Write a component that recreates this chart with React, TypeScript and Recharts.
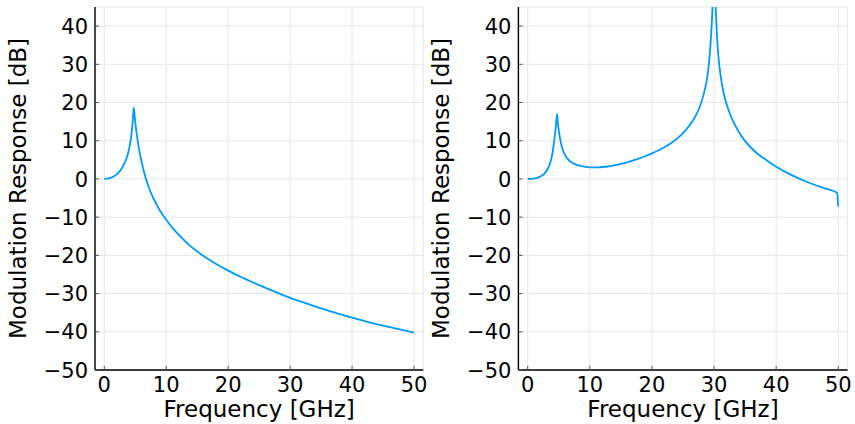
import { LineChart, Line, XAxis, YAxis, CartesianGrid } from 'recharts';

// values
const leftFreq = [
  0, 1, 2, 2.7, 3.2, 3.6, 4.0, 4.3, 4.55, 4.76, 4.95, 5.15, 5.4, 5.7, 6.1, 6.6, 7.2, 8.0, 9.0, 10,
  11, 12, 13.5, 15, 16.5, 18, 20, 22.5, 25, 27.5, 30, 32.5, 35, 37.5, 40, 42.5, 45, 47.5, 50,
];
const leftDb = [
  0, 0.3, 1.2, 2.5, 3.9, 5.4, 7.8, 10.6, 14.2, 18.7, 15.6, 12.8, 9.9, 7.0, 3.9, 0.7, -2.3, -5.3, -8.3, -10.7,
  -12.8, -14.6, -17.0, -19.0, -20.7, -22.2, -24.0, -26.0, -27.8, -29.5, -31.1, -32.5, -33.9, -35.1, -36.3, -37.4, -38.4, -39.3, -40.2,
];

const rightFreq = [
  0, 1, 2, 2.7, 3.2, 3.6, 4.0, 4.3, 4.5, 4.73, 4.9, 5.1, 5.35, 5.65, 6.0, 6.45, 7, 7.7, 8.5, 10,
  11.5, 13, 14.5, 16, 17.5, 19, 20, 21, 22, 23, 24, 25, 26, 27, 27.7, 28.3, 28.8, 29.2, 29.5, 29.7, 29.85,
  30, 30.15, 30.3, 30.5, 30.75, 31, 31.4, 31.8, 32.4, 33.1, 34, 35, 36, 37, 38, 40, 42.5, 45, 47.5, 49.8, 50,
];
const rightDb = [
  0, 0.1, 0.6, 1.4, 2.6, 4.1, 6.9, 10.5, 13.2, 17.0, 14.0, 11.6, 9.4, 7.6, 6.3, 5.2, 4.4, 3.8, 3.4, 3.05,
  3.05, 3.3, 3.75, 4.35, 5.1, 6.0, 6.7, 7.45, 8.3, 9.3, 10.5, 12.0, 13.9, 16.4, 18.9, 22.0, 25.6, 30.5, 37, 43, 50,
  62, 50, 43.5, 36.5, 31.2, 27.7, 23.6, 20.8, 17.7, 15.0, 12.3, 9.9, 8.1, 6.6, 5.4, 3.2, 1.0, -0.8, -2.3, -3.6, -7.2,
];

const freqTicks = [0, 10, 20, 30, 40, 50];
const dbTicks = [-50, -40, -30, -20, -10, 0, 10, 20, 30, 40];

const xTitle = 'Frequency [GHz]';
const yTitle = 'Modulation Response [dB]';

const FONT = '"DejaVu Sans", sans-serif';
const LINE_COLOR = '#009AFA';

const leftData = leftFreq.map((f, i) => ({ f, db: leftDb[i] }));
const rightData = rightFreq.map((f, i) => ({ f, db: rightDb[i] }));

const fmt = (v: number) => (v < 0 ? `\u2212${-v}` : `${v}`);

const YTick = ({ x, y, payload }: any) => (
  <g>
    <text x={x} y={y} dy="0.36em" textAnchor="end" fontSize={21} fontFamily={FONT} fill="#000">
      {fmt(payload.value)}
    </text>
    <line x1={x + 7} x2={x + 11} y1={y} y2={y} stroke="#555" strokeWidth={1} />
  </g>
);

const XTick = ({ x, y, payload }: any) => (
  <g>
    <text x={x} y={y + 22} textAnchor="middle" fontSize={21} fontFamily={FONT} fill="#000">
      {fmt(payload.value)}
    </text>
    <line x1={x} x2={x} y1={y} y2={y - 4} stroke="#555" strokeWidth={1} />
  </g>
);

const XTitle = ({ viewBox }: any) => (
  <text
    x={viewBox.x + viewBox.width / 2}
    y={viewBox.y + 47}
    textAnchor="middle"
    fontSize={23}
    fontFamily={FONT}
    fill="#000"
  >
    {xTitle}
  </text>
);

const YTitle = ({ viewBox }: any) => {
  const bx = viewBox.x + viewBox.width - 69;
  const cy = viewBox.y + viewBox.height / 2;
  return (
    <text
      x={bx}
      y={cy}
      transform={`rotate(-90, ${bx}, ${cy})`}
      textAnchor="middle"
      fontSize={23}
      fontFamily={FONT}
      fill="#000"
    >
      {yTitle}
    </text>
  );
};

function Panel({ data, left, right }: { data: { f: number; db: number }[]; left: number; right: number }) {
  return (
    <LineChart width={430} height={424} data={data} margin={{ top: 7, right, bottom: 24, left }}>
      <CartesianGrid stroke="#e6e6e6" strokeWidth={1} />
      <XAxis
        dataKey="f"
        type="number"
        domain={[-1.5, 51.5]}
        ticks={freqTicks}
        allowDataOverflow
        height={30}
        tickSize={0}
        tickMargin={0}
        tickLine={false}
        axisLine={{ stroke: '#000', strokeWidth: 1.4 }}
        tick={<XTick />}
        label={XTitle}
      />
      <YAxis
        type="number"
        domain={[-50, 45]}
        ticks={dbTicks}
        allowDataOverflow
        width={60}
        tickSize={0}
        tickMargin={7}
        tickLine={false}
        axisLine={{ stroke: '#000', strokeWidth: 1.4 }}
        tick={<YTick />}
        label={YTitle}
      />
      <Line
        type="monotone"
        dataKey="db"
        stroke={LINE_COLOR}
        strokeWidth={1.8}
        dot={false}
        activeDot={false}
        isAnimationActive={false}
      />
    </LineChart>
  );
}

export default function App() {
  return (
    <div style={{ position: 'absolute', left: 0, top: 0, width: 855, height: 424, background: '#fff' }}>
      <div style={{ position: 'absolute', left: 0, top: 0 }}>
        <Panel data={leftData} left={35} right={6.7} />
      </div>
      <div style={{ position: 'absolute', left: 425, top: 0 }}>
        <Panel data={rightData} left={33.4} right={7.4} />
      </div>
    </div>
  );
}
